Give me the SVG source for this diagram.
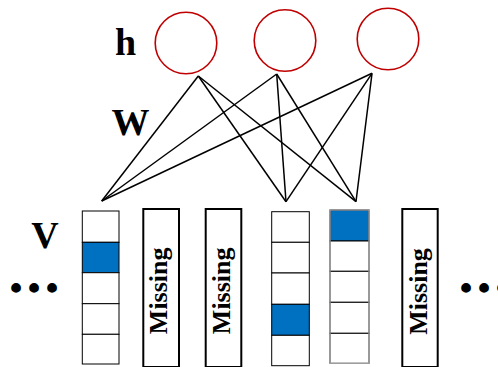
<svg xmlns="http://www.w3.org/2000/svg" width="498" height="367" viewBox="0 0 498 367">
<style>
.lbl{font-family:"Liberation Serif","Times New Roman",serif;font-weight:bold;font-size:38px;fill:#000;text-anchor:middle}
.dot{font-family:"Liberation Serif","Times New Roman",serif;font-weight:bold;font-size:36px;fill:#000;text-anchor:middle}
.miss{font-family:"Liberation Serif","Times New Roman",serif;font-weight:bold;font-size:26px;fill:#000;text-anchor:middle}
.hid{fill:#fff;stroke:#C00000;stroke-width:1.6}
.conn line{stroke:#000;stroke-width:1.5}
.cell{fill:#fff;stroke:#000;stroke-width:1}
.on{fill:#0070C0;stroke:#000;stroke-width:1}
.box{fill:#fff;stroke:#000;stroke-width:2}
</style>
<rect width="498" height="367" fill="#fff"/>
<text class="lbl" x="125.5" y="55">h</text>
<text class="lbl" x="130.5" y="135">W</text>
<text class="lbl" x="45" y="248">V</text>
<g id="h1"><circle class="hid" cx="186" cy="43" r="30.8"/></g>
<g id="h2"><circle class="hid" cx="285" cy="40.5" r="30.8"/></g>
<g id="h3"><circle class="hid" cx="388" cy="39" r="30.8"/></g>
<g id="connectors" class="conn">
<line x1="198.3" y1="76" x2="101.7" y2="201"/>
<line x1="198.3" y1="76" x2="286" y2="201.7"/>
<line x1="198.3" y1="76" x2="356" y2="201.7"/>
<line x1="276.7" y1="74" x2="101.7" y2="201"/>
<line x1="276.7" y1="74" x2="286" y2="201.7"/>
<line x1="276.7" y1="74" x2="356" y2="201.7"/>
<line x1="372" y1="73.3" x2="101.7" y2="201"/>
<line x1="372" y1="73.3" x2="286" y2="201.7"/>
<line x1="372" y1="73.3" x2="356" y2="201.7"/>
</g>
<g id="v1">
<rect class="cell" x="82.3" y="211" width="36.7" height="31.3" stroke="#555"/>
<rect class="on" x="82.3" y="242.3" width="36.7" height="30.4"/>
<rect class="cell" x="82.3" y="272.7" width="36.7" height="31"/>
<rect class="cell" x="82.3" y="303.7" width="36.7" height="30.6"/>
<rect class="cell" x="82.3" y="334.3" width="36.7" height="29.7"/>
</g>
<g id="m1">
<rect class="box" x="143.3" y="209" width="35.7" height="158"/>
<text class="miss" transform="translate(167,290.8) rotate(-90)">Missing</text>
</g>
<g id="m2">
<rect class="box" x="205.7" y="209" width="35.6" height="158"/>
<text class="miss" transform="translate(229.5,290.8) rotate(-90)">Missing</text>
</g>
<g id="v3">
<rect class="cell" x="271.7" y="211.7" width="37.6" height="30.6"/>
<rect class="cell" x="271.7" y="242.3" width="37.6" height="30.7"/>
<rect class="cell" x="271.7" y="273" width="37.6" height="31.3"/>
<rect class="on" x="271.7" y="304.3" width="37.6" height="31"/>
<rect class="cell" x="271.7" y="335.3" width="37.6" height="30.4"/>
</g>
<g id="v4">
<rect class="on" x="330" y="210" width="39" height="31"/>
<rect class="cell" x="330" y="241" width="39" height="30.3"/>
<rect class="cell" x="330" y="271.3" width="39" height="31"/>
<rect class="cell" x="330" y="302.3" width="39" height="31"/>
<rect class="cell" x="330" y="333.3" width="39" height="30"/>
<rect x="330" y="210" width="39" height="153.3" fill="none" stroke="#aaa" stroke-width="1.2"/>
</g>
<g id="m3">
<rect class="box" x="402.3" y="209" width="35.4" height="158"/>
<text class="miss" transform="translate(426.5,291.5) rotate(-90)">Missing</text>
</g>
<text class="dot" x="16 34 52" y="300">•••</text>
<text class="dot" x="466 484 502" y="300">•••</text>
</svg>
